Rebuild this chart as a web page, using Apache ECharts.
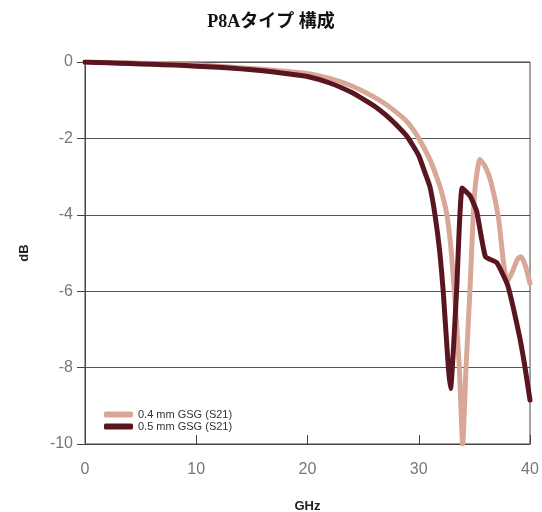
<!DOCTYPE html>
<html><head><meta charset="utf-8">
<script src="https://cdn.jsdelivr.net/npm/echarts@6/dist/echarts.min.js"></script>
<style>html,body{margin:0;padding:0;background:#fff}#c{width:542px;height:512px}</style>
</head><body><div id="c"></div>
<script>
var title = 'P8Aタイプ 構成';
var seriesNames = ['0.4 mm GSG (S21)', '0.5 mm GSG (S21)'];
var xTicks = [0, 10, 20, 30, 40];
var yTicks = [0, -2, -4, -6, -8, -10];

var freq04 = [0, 2, 4, 6, 8, 10, 12, 14, 16, 18, 20, 22, 24, 26, 27, 28, 29, 30, 31, 31.5, 32, 32.5, 32.85, 33.2, 33.65, 33.95, 34.25, 34.6, 34.9, 35.1, 35.5, 36.0, 36.5, 37.15, 37.6, 37.95, 38.4, 38.9, 39.2, 39.6, 40];
var s21_04 = [0, -0.01, -0.02, -0.04, -0.06, -0.08, -0.11, -0.15, -0.19, -0.24, -0.3, -0.43, -0.63, -0.92, -1.1, -1.32, -1.58, -2.0, -2.55, -2.92, -3.35, -3.95, -4.75, -6.0, -8.0, -10.0, -8.0, -6.0, -4.0, -3.2, -2.55, -2.75, -3.15, -4.05, -5.2, -5.75, -5.5, -5.15, -5.1, -5.35, -5.8];

var freq05 = [0, 2, 4, 6, 8, 10, 12, 14, 16, 18, 20, 22, 24, 25, 26, 27, 28, 29, 30, 30.5, 31, 31.46, 31.9, 32.2, 32.66, 32.86, 33.4, 33.9, 34.6, 35.2, 36.0, 37.0, 38.0, 39.0, 39.5, 40];
var s21_05 = [0, -0.02, -0.04, -0.06, -0.08, -0.11, -0.14, -0.18, -0.23, -0.3, -0.38, -0.55, -0.8, -0.97, -1.15, -1.38, -1.65, -1.97, -2.45, -2.85, -3.26, -4.0, -5.0, -6.0, -8.0, -8.55, -6.0, -3.3, -3.5, -3.9, -5.1, -5.25, -5.85, -7.1, -7.9, -8.85];

function pairs(xs, ys){ return xs.map(function(x,i){ return [x, ys[i]]; }); }

var chart = echarts.init(document.getElementById('c'), null, {renderer:'canvas'});
chart.setOption({
  animation: false,
  backgroundColor: '#fff',
  title: {
    text: title, left: 'center', top: 8,
    textStyle: {fontFamily: '"Liberation Serif", "Noto Sans CJK JP", serif', fontSize: 18, fontWeight: 'bold', color: '#111'}
  },
  legend: {
    orient: 'vertical', left: 99, top: 404, itemGap: 1,
    itemWidth: 29, itemHeight: 6, icon: 'roundRect',
    textStyle: {fontFamily: '"Liberation Sans", sans-serif', fontSize: 11, color: '#333'},
    data: seriesNames
  },
  grid: {left: 85, right: 12, top: 62, bottom: 68, containLabel: false, outerBoundsMode: 'none',
         show: true, borderColor: '#444', borderWidth: 1, backgroundColor: 'transparent'},
  xAxis: {
    type: 'value', min: 0, max: 40, interval: 10,
    name: 'GHz', nameLocation: 'middle', nameGap: 56,
    nameTextStyle: {fontFamily: '"Liberation Sans", sans-serif', fontSize: 13, fontWeight: 'bold', color: '#222'},
    axisLine: {show: true, onZero: false, lineStyle: {color: '#444', width: 1}},
    axisTick: {show: true, inside: true, length: 9, lineStyle: {color: '#444'}},
    axisLabel: {margin: 18, fontFamily: '"Liberation Sans", sans-serif', fontSize: 16, color: '#777',
      formatter: function(v){ return xTicks.indexOf(v) >= 0 ? String(v) : ''; }},
    splitLine: {show: false}
  },
  yAxis: {
    type: 'value', min: -10, max: 0, interval: 2,
    name: 'dB', nameLocation: 'middle', nameGap: 54,
    nameTextStyle: {fontFamily: '"Liberation Sans", sans-serif', fontSize: 13, fontWeight: 'bold', color: '#222'},
    axisLine: {show: true, onZero: false, lineStyle: {color: '#444', width: 1}},
    axisTick: {show: true, inside: false, length: 8, lineStyle: {color: '#444'}},
    axisLabel: {margin: 12, fontFamily: '"Liberation Sans", sans-serif', fontSize: 16, color: '#777',
      formatter: function(v){ return yTicks.indexOf(v) >= 0 ? String(v) : ''; }},
    splitLine: {show: true, lineStyle: {color: '#555', width: 1}}
  },
  series: [
    {name: seriesNames[0], type: 'line', data: pairs(freq04, s21_04), showSymbol: false, symbol: 'none',
     smooth: 0.2, lineStyle: {color: '#D9A797', width: 5, cap: 'round', join: 'round'}, itemStyle: {color: '#D9A797'}, z: 3},
    {name: seriesNames[1], type: 'line', data: pairs(freq05, s21_05), showSymbol: false, symbol: 'none',
     smooth: 0.15, lineStyle: {color: '#5A1620', width: 5, cap: 'round', join: 'round'}, itemStyle: {color: '#5A1620'}, z: 4}
  ]
});
</script></body></html>
